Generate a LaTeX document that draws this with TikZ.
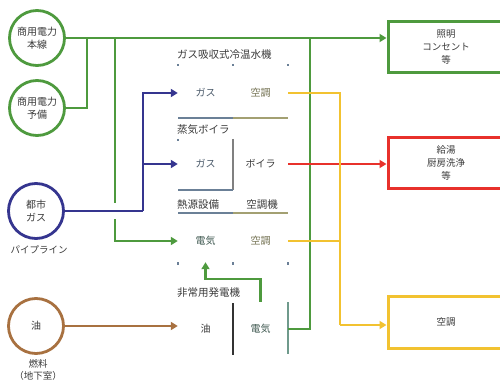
\documentclass[tikz,border=0pt]{standalone}
\usepackage{fontspec}
\setmainfont{Noto Sans CJK JP}
\usetikzlibrary{arrows.meta,calc}

\definecolor{pgreen}{HTML}{4E9A3E}
\definecolor{pblue}{HTML}{35358F}
\definecolor{pbrown}{HTML}{A87140}
\definecolor{pred}{HTML}{E8312B}
\definecolor{pyellow}{HTML}{F2C230}
\definecolor{darktext}{HTML}{3A3A3A}
\definecolor{slate}{HTML}{6B8097}
\definecolor{olive}{HTML}{A3A072}
\definecolor{tealgray}{HTML}{6F9A8C}

\begin{document}
\begin{tikzpicture}[
  x=1pt, y=-1pt,
  source/.style={circle, draw, line width=2.8pt, minimum size=55pt, inner sep=0pt, align=center, font=\fontsize{10}{13}\selectfont, text=darktext},
  sink/.style={rectangle, draw, line width=3pt, minimum width=116pt, minimum height=51pt, align=center, font=\fontsize{9.5}{13}\selectfont, text=darktext},
  cell/.style={minimum width=55pt, minimum height=42pt, inner sep=0pt, font=\fontsize{10}{12}\selectfont},
  head/.style={anchor=west, inner sep=0pt, font=\fontsize{10.5}{12}\selectfont, text=darktext},
  note/.style={font=\fontsize{9.5}{12}\selectfont, text=darktext},
  pline/.style={line width=2.9pt},
  parrow/.style={line width=2.9pt, -{Triangle[length=7pt,width=8pt]}},
  rule/.style={line width=1.4pt},
]
\useasboundingbox (0,0) rectangle (500,382);

% === sources ===
\node[source, draw=pgreen] (cmain) at (37,38) {商用電力\\本線};
\node[source, draw=pgreen] (cres) at (37,108) {商用電力\\予備};
\node[source, draw=pblue] (cgas) at (36,211) {都市\\ガス};
\node[note] (lgas) at (39,250) {パイプライン};
\node[source, draw=pbrown] (coil) at (36,326) {油};
\node[note, align=center] (loil) at (38,370) {燃料\\（地下室）};

% === sinks ===
\node[sink, draw=pgreen] (blight) at (446,47.5) {照明\\コンセント\\等};
\node[sink, draw=pred] (bsteam) at (446,163) {給湯\\厨房洗浄\\等};
\node[sink, draw=pyellow, minimum height=52pt] (bair) at (446,322) {空調};

% === ガス吸収式冷温水機 ===
\node[head] (h1) at (177,55) {ガス吸収式冷温水機};
\node[cell, text=slate!70!black] (g1) at (205.5,93) {ガス};
\node[cell, text=olive!70!black] (a1) at (260.5,93) {空調};
\draw[rule, slate] (178,118) -- (233,118);
\draw[rule, olive] (233,118) -- (288,118);
\foreach \tx in {178,233,288}
  \draw[rule, slate] (\tx,64) -- (\tx,66.5);

% === 蒸気ボイラ ===
\node[head] (h2) at (177,130) {蒸気ボイラ};
\node[cell, text=slate!70!black] (g2) at (205.5,164) {ガス};
\node[cell, text=darktext] (b2) at (260.5,164) {ボイラ};
\draw[rule, slate] (178,139) -- (178,141.5);
\draw[rule, gray] (233,139) -- (233,190);
\draw[rule, slate] (178,190) -- (233,190);

% === 熱源設備 / 空調機 ===
\node[head] (h3a) at (177,205) {熱源設備};
\node[head, anchor=center] (h3b) at (262,205) {空調機};
\draw[rule, slate] (178,213) -- (233,213);
\draw[rule, olive] (233,213) -- (288,213);
\node[cell, text=tealgray!60!black] (e3) at (205.5,241) {電気};
\node[cell, text=olive!70!black] (a3) at (260.5,241) {空調};
\foreach \tx in {178,233,288}
  \draw[rule, slate] (\tx,262) -- (\tx,264.5);

% === 非常用発電機 ===
\node[head] (h4) at (177,293) {非常用発電機};
\node[cell, minimum height=54pt, text=darktext] (o4) at (205.5,329) {油};
\node[cell, minimum height=54pt, text=tealgray!60!black] (e4) at (260.5,329) {電気};
\draw[rule, black!80] (233,303) -- (233,355);
\draw[rule, tealgray] (288,302) -- (288,354);

% === junctions ===
\coordinate (jA) at (87,38);
\coordinate (jB) at (115,38);
\coordinate (jC) at (310,38);
\coordinate (jD) at (260.5,279);
\coordinate (jE) at (143,211);
\coordinate (jF) at (340,325);
\coordinate (gapT) at (115,203);
\coordinate (gapB) at (115,219);

% === electricity ===
\draw[parrow, pgreen] (cmain.east) -- (cmain.east -| blight.west);
\draw[pline, pgreen] (cres.east) -| (jA);
\draw[pline, pgreen] (jB) -- (gapT);
\draw[parrow, pgreen] (gapB) |- (e3.west);
\draw[pline, pgreen] (e4.east) -| (jC);
\draw[parrow, pgreen] (e4.north) -- (jD) -| (e3.south);

% === gas ===
\draw[pline, pblue] (cgas.east) -- (jE);
\draw[parrow, pblue] (jE) |- (g1.west);
\draw[parrow, pblue] (jE) |- (g2.west);

% === oil ===
\draw[parrow, pbrown] (coil.east) -- (coil.east -| o4.west);

% === heat ===
\draw[parrow, pred] (b2.east) -- (b2.east -| bsteam.west);
\draw[pline, pyellow] (a1.east) -| (jF);
\draw[pline, pyellow] (a3.east) -- (a3.east -| jF);
\draw[parrow, pyellow] (jF) -- (jF -| bair.west);

\end{tikzpicture}
\end{document}
